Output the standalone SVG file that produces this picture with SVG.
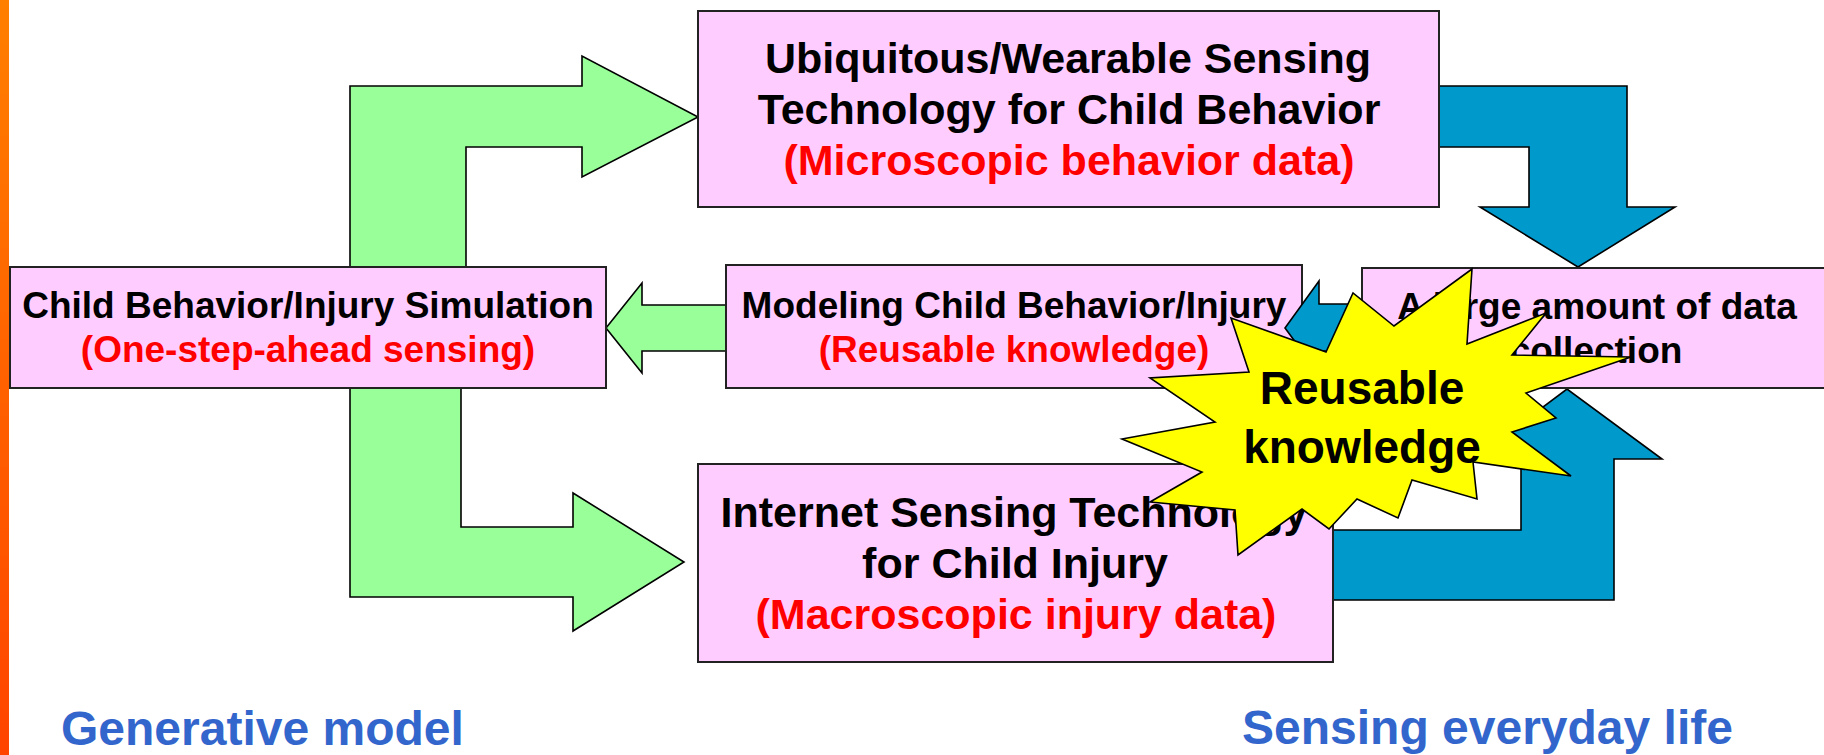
<svg xmlns="http://www.w3.org/2000/svg" width="1824" height="755" viewBox="0 0 1824 755">
<defs>
<linearGradient id="bar" x1="0" y1="0" x2="0" y2="1">
<stop offset="0" stop-color="#FF7F00"/>
<stop offset="1" stop-color="#FF4400"/>
</linearGradient>
<style>
.box{fill:#FFCCFF;stroke:#222;stroke-width:2}
.g{fill:#99FF99;stroke:#000;stroke-width:1.6;stroke-linejoin:miter}
.b{fill:#0099CC;stroke:#000;stroke-width:1.6}
.star{fill:#FFFF00;stroke:#000;stroke-width:1.6}
text{font-family:"Liberation Sans",Arial,sans-serif;font-weight:bold;text-anchor:middle}
.k{fill:#000}
.r{fill:#FF0000}
.s{font-size:37px}
.L{font-size:43px}
.lab{font-size:48px;fill:#3366CC;text-anchor:start}
.st{font-size:46px;fill:#000}
</style>
</defs>
<rect x="0" y="0" width="9" height="755" fill="url(#bar)"/>
<g id="connectors">
<polygon class="g" points="350,272 350,86 582,86 582,56 698,117 582,177 582,147 466,147 466,272"/>
<polygon class="g" points="350,383 350,597 573,597 573,631 684,562 573,493 573,527 461,527 461,383"/>
<polygon class="g" points="730,305 642,305 642,283 606,328 642,373 642,351 730,351"/>
<polygon class="b" points="1435,86 1627,86 1627,207 1675,207 1578,267 1480,207 1529,207 1529,147 1435,147"/>
<polygon class="b" points="1328,600 1614,600 1614,459 1662,459 1567,389 1474,459 1521,459 1521,530 1328,530"/>
</g>
<g id="node-top">
<rect class="box" x="698" y="11" width="741" height="196"/>
<text class="L k" x="1068" y="73">Ubiquitous/Wearable Sensing</text>
<text class="L k" x="1069" y="124">Technology for Child Behavior</text>
<text class="L r" x="1069" y="175">(Microscopic behavior data)</text>
</g>
<g id="node-sim">
<rect class="box" x="10" y="267" width="596" height="121"/>
<text class="s k" x="308" y="318">Child Behavior/Injury Simulation</text>
<text class="s r" x="308" y="362">(One-step-ahead sensing)</text>
</g>
<g id="node-model">
<rect class="box" x="726" y="265" width="576" height="123"/>
<text class="s k" x="1014" y="318">Modeling Child Behavior/Injury</text>
<text class="s r" x="1014" y="362">(Reusable knowledge)</text>
</g>
<g id="node-data">
<rect class="box" x="1362" y="268" width="480" height="120"/>
<text class="s k" x="1597" y="319">A large amount of data</text>
<text class="s k" x="1596" y="363">collection</text>
</g>
<g id="node-internet">
<rect class="box" x="698" y="464" width="635" height="198"/>
<text class="L k" x="1014" y="527">Internet Sensing Technology</text>
<text class="L k" x="1015" y="578">for Child Injury</text>
<text class="L r" x="1016" y="629">(Macroscopic injury data)</text>
</g>
<g id="connector-knowledge">
<polygon class="b" points="1362,304 1319,304 1319,281 1285,328 1319,374 1319,351 1362,351"/>
</g>
<g id="node-star">
<polygon class="star" points="1122,439 1215,422 1150,378 1249,372 1231,318 1326,352 1353,293 1394,326 1472,269 1467,344 1546,313 1512,355 1631,357 1526,393 1556,418 1512,432 1571,476 1473,462 1477,499 1412,480 1398,518 1357,499 1329,529 1302,509 1238,555 1235,510 1150,502 1202,472"/>
<text class="st" x="1362" y="404">Reusable</text>
<text class="st" x="1362" y="463">knowledge</text>
</g>
<text class="lab" x="61" y="745">Generative model</text>
<text class="lab" x="1242" y="744">Sensing everyday life</text>
</svg>
